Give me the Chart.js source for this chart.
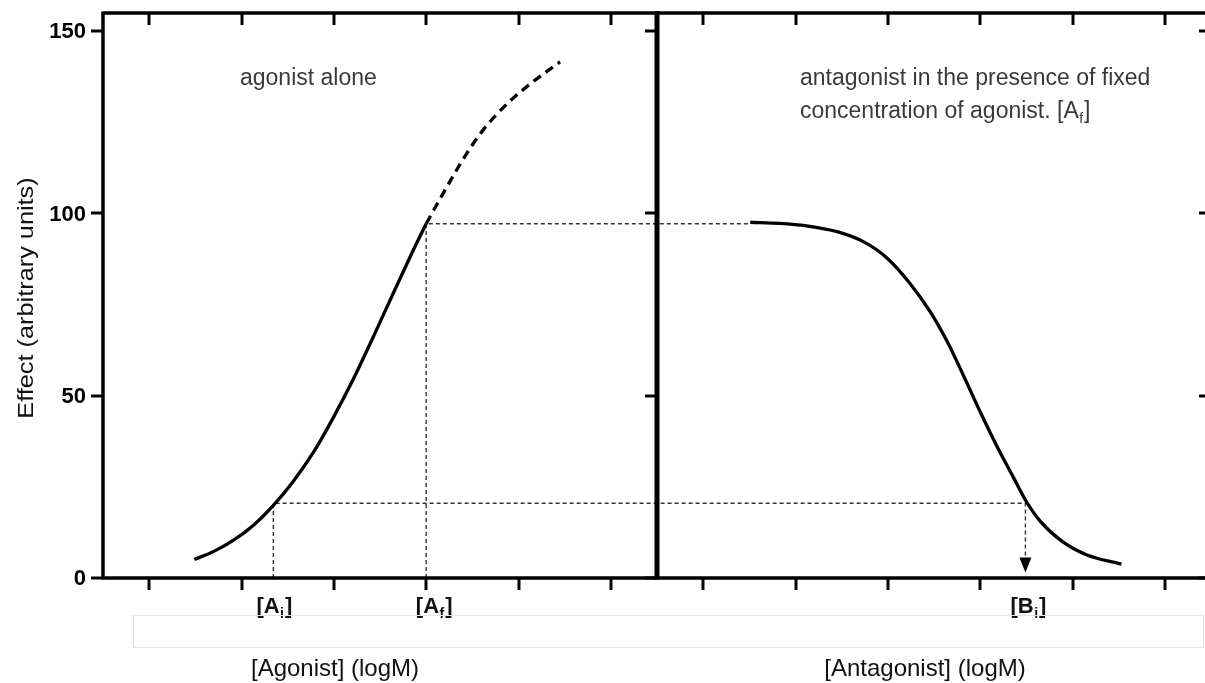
<!DOCTYPE html>
<html>
<head>
<meta charset="utf-8">
<script src="https://cdn.jsdelivr.net/npm/chart.js@4.4.0/dist/chart.umd.min.js"></script>
<style>
  html, body { margin: 0; padding: 0; background: #fff; overflow: hidden; }
  #wrap { position: relative; width: 1230px; height: 683px; }
</style>
</head>
<body>
<div id="wrap"><canvas id="doseChart" width="1230" height="683"></canvas></div>
<script>
// values. x is log concentration, two 6-unit panels side by side
const yTickValues = [0, 50, 100, 150];
const xTickValues = [0.5, 1.5, 2.5, 3.5, 4.5, 5.5, 6.5, 7.5, 8.5, 9.5, 10.5, 11.5];
const panelEdges = [0, 6, 12];

const agonistX = [0.99, 1.2, 1.41, 1.63, 1.84, 2.06, 2.28, 2.49, 2.71, 2.93, 3.14, 3.36, 3.5];
const agonistY = [5.1, 7.3, 10.3, 14.5, 19.8, 26.5, 34.5, 43.8, 54.5, 66.3, 77.9, 89.9, 97.2];
// dashed continuation of the agonist curve above [Af]
const agonistExtX = [3.5, 3.65, 3.79, 3.94, 4.12, 4.34, 4.59, 4.95];
const agonistExtY = [97.2, 104.0, 110.2, 116.5, 123.0, 129.2, 134.8, 141.6];

const antagonistX = [7.01, 7.33, 7.62, 7.95, 8.24, 8.49, 8.74, 8.96, 9.14, 9.32, 9.5, 9.68, 9.86, 9.99, 10.15, 10.37, 10.65, 11.03];
const antagonistY = [97.6, 97.3, 96.6, 95.0, 92.2, 87.8, 80.8, 73.0, 65.0, 55.5, 45.6, 36.2, 27.6, 21.4, 15.6, 10.4, 6.4, 3.8];

const concAi = 1.845, concAf = 3.5, concBi = 9.99;
const effectAi = 20.5, effectAf = 97.2;
const arrowTip = 1.5;

const FONT = '"Liberation Sans", Arial, Helvetica, sans-serif';

function pts(xs, ys) {
    return xs.map((x, i) => ({ x: x, y: ys[i] }));
}

function drawSubText(ctx, main, sub, tail, x, baseline, size, weight, align) {
    const subSize = Math.round(size * 0.62);
    ctx.font = weight + ' ' + size + 'px ' + FONT;
    const w1 = ctx.measureText(main).width;
    const w3 = ctx.measureText(tail).width;
    ctx.font = weight + ' ' + subSize + 'px ' + FONT;
    const w2 = ctx.measureText(sub).width + 1.5;
    const total = w1 + w2 + w3;
    const start = align === 'center' ? x - total / 2 : x;
    ctx.textAlign = 'left';
    ctx.textBaseline = 'alphabetic';
    ctx.font = weight + ' ' + size + 'px ' + FONT;
    ctx.fillText(main, start, baseline);
    ctx.font = weight + ' ' + subSize + 'px ' + FONT;
    ctx.fillText(sub, start + w1 + 0.5, baseline + size * 0.22);
    ctx.font = weight + ' ' + size + 'px ' + FONT;
    ctx.fillText(tail, start + w1 + w2, baseline);
}

const framePlugin = {
    id: 'frame',
    afterDraw(chart) {
        const ctx = chart.ctx;
        const xs = chart.scales.x, ys = chart.scales.y;
        const area = chart.chartArea;
        const y0 = ys.getPixelForValue(0);
        const top = area.top;
        ctx.save();
        ctx.strokeStyle = '#000';
        ctx.lineCap = 'butt';

        // ticks on top (inward) and bottom (outward)
        ctx.lineWidth = 3;
        xTickValues.forEach(v => {
            const px = Math.round(xs.getPixelForValue(v));
            ctx.beginPath();
            ctx.moveTo(px, y0);
            ctx.lineTo(px, y0 + 12);
            ctx.moveTo(px, top);
            ctx.lineTo(px, top + 12);
            ctx.stroke();
        });
        // y ticks point left from every vertical edge
        panelEdges.forEach(e => {
            const px = xs.getPixelForValue(e);
            yTickValues.forEach(v => {
                const py = Math.round(ys.getPixelForValue(v));
                ctx.beginPath();
                ctx.moveTo(px - 12, py);
                ctx.lineTo(px, py);
                ctx.stroke();
            });
        });

        // frame lines
        ctx.lineWidth = 3.5;
        ctx.beginPath();
        ctx.moveTo(xs.getPixelForValue(0), top);
        ctx.lineTo(xs.getPixelForValue(12), top);
        ctx.moveTo(xs.getPixelForValue(0) - 1, y0);
        ctx.lineTo(xs.getPixelForValue(12), y0);
        ctx.moveTo(xs.getPixelForValue(0), top - 1.5);
        ctx.lineTo(xs.getPixelForValue(0), y0 + 1.5);
        ctx.moveTo(xs.getPixelForValue(12), top - 1.5);
        ctx.lineTo(xs.getPixelForValue(12), y0 + 1.5);
        ctx.stroke();
        ctx.lineWidth = 5;
        ctx.beginPath();
        ctx.moveTo(xs.getPixelForValue(6), top - 2);
        ctx.lineTo(xs.getPixelForValue(6), y0 + 1.5);
        ctx.stroke();

        // arrow head at [Bi]
        const bx = xs.getPixelForValue(concBi);
        const by = ys.getPixelForValue(arrowTip);
        ctx.fillStyle = '#000';
        ctx.beginPath();
        ctx.moveTo(bx, by);
        ctx.lineTo(bx - 6, by - 15);
        ctx.lineTo(bx + 6, by - 15);
        ctx.closePath();
        ctx.fill();

        // y tick labels
        ctx.fillStyle = '#000';
        ctx.font = 'bold 22px ' + FONT;
        ctx.textAlign = 'right';
        ctx.textBaseline = 'middle';
        yTickValues.forEach(v => {
            ctx.fillText(String(v), 86, ys.getPixelForValue(v) + 1);
        });

        // y axis title
        ctx.save();
        ctx.translate(33, 298);
        ctx.rotate(-Math.PI / 2);
        ctx.scale(1.15, 1);
        ctx.font = '22px ' + FONT;
        ctx.textAlign = 'center';
        ctx.textBaseline = 'alphabetic';
        ctx.fillStyle = '#111';
        ctx.fillText('Effect (arbitrary units)', 0, 0);
        ctx.restore();

        // concentration markers under the axis
        ctx.fillStyle = '#111';
        drawSubText(ctx, '[A', 'i', ']', xs.getPixelForValue(concAi) + 1, 613, 22, 'bold', 'center');
        drawSubText(ctx, '[A', 'f', ']', xs.getPixelForValue(concAf) + 8, 613, 22, 'bold', 'center');
        drawSubText(ctx, '[B', 'i', ']', xs.getPixelForValue(concBi) + 3, 613, 22, 'bold', 'center');

        // x axis titles
        ctx.font = '24px ' + FONT;
        ctx.textAlign = 'center';
        ctx.textBaseline = 'alphabetic';
        ctx.fillStyle = '#111';
        ctx.fillText('[Agonist] (logM)', 335, 676);
        ctx.fillText('[Antagonist] (logM)', 925, 676);

        // panel notes
        ctx.fillStyle = '#3a3a3a';
        ctx.font = '23px ' + FONT;
        ctx.textAlign = 'left';
        ctx.fillText('agonist alone', 240, 85);
        ctx.fillText('antagonist in the presence of fixed', 800, 85);
        drawSubText(ctx, 'concentration of agonist. [A', 'f', ']', 800, 118, 23, 'normal', 'left');

        // faint empty box below the axis
        ctx.strokeStyle = '#e4e4e4';
        ctx.lineWidth = 1;
        ctx.strokeRect(133.5, 615.5, 1070, 32);
        ctx.restore();
    }
};

const ctx = document.getElementById('doseChart').getContext('2d');
new Chart(ctx, {
    type: 'line',
    data: {
        datasets: [
            {
                label: 'agonist',
                data: pts(agonistX, agonistY),
                borderColor: '#000',
                borderWidth: 3.3,
                pointRadius: 0,
                cubicInterpolationMode: 'monotone'
            },
            {
                label: 'agonist (extrapolated)',
                data: pts(agonistExtX, agonistExtY),
                borderColor: '#000',
                borderWidth: 3.3,
                borderDash: [9, 6],
                pointRadius: 0,
                cubicInterpolationMode: 'monotone'
            },
            {
                label: 'antagonist',
                data: pts(antagonistX, antagonistY),
                borderColor: '#000',
                borderWidth: 3.3,
                pointRadius: 0,
                cubicInterpolationMode: 'monotone'
            },
            {
                label: 'Af guide',
                data: [
                    { x: concAf, y: 0 },
                    { x: concAf, y: effectAf },
                    { x: antagonistX[0], y: effectAf }
                ],
                borderColor: '#333',
                borderWidth: 1.4,
                borderDash: [4, 3],
                pointRadius: 0,
                tension: 0
            },
            {
                label: 'Ai / Bi guide',
                data: [
                    { x: concAi, y: 0 },
                    { x: concAi, y: effectAi },
                    { x: concBi, y: effectAi },
                    { x: concBi, y: arrowTip + 3 }
                ],
                borderColor: '#333',
                borderWidth: 1.4,
                borderDash: [4, 3],
                pointRadius: 0,
                tension: 0
            }
        ]
    },
    options: {
        responsive: false,
        animation: false,
        layout: { padding: { left: 103, top: 13, right: 19, bottom: 105 } },
        plugins: {
            legend: { display: false },
            tooltip: { enabled: false }
        },
        scales: {
            x: { type: 'linear', min: 0, max: 12, display: false },
            y: { type: 'linear', min: 0, max: 155, display: false }
        }
    },
    plugins: [framePlugin]
});
</script>
</body>
</html>
